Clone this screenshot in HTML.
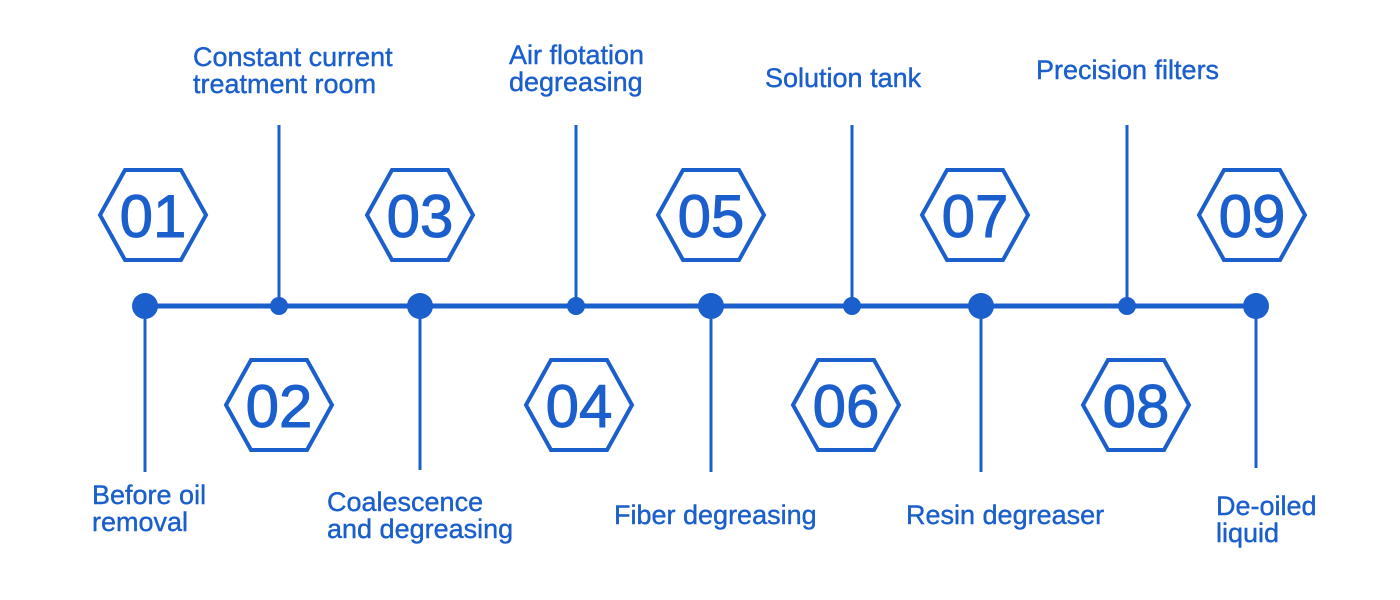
<!DOCTYPE html>
<html><head><meta charset="utf-8"><style>
body{margin:0;width:1400px;height:600px;background:#fff;position:relative;overflow:hidden;font-family:"Liberation Sans",sans-serif}
.t{position:absolute;color:#1a5fcc;font-size:27px;line-height:27px;white-space:nowrap;-webkit-text-stroke:0.4px #1a5fcc}
</style></head><body>
<svg width="1400" height="600" style="position:absolute;left:0;top:0">
<defs><polygon id="hx" points="-53,0 -28,-45 28,-45 53,0 28,45 -28,45" fill="none" stroke="#1a5fcc" stroke-width="4"/></defs>
<g stroke="#1a5fcc" stroke-width="3">
<line x1="145" y1="306" x2="1256" y2="306" stroke-width="5"/>
<line x1="279" y1="125" x2="279" y2="306"/><line x1="576" y1="125" x2="576" y2="306"/>
<line x1="852" y1="125" x2="852" y2="306"/><line x1="1127" y1="125" x2="1127" y2="306"/>
<line x1="145" y1="306" x2="145" y2="472"/><line x1="420" y1="306" x2="420" y2="470"/>
<line x1="711" y1="306" x2="711" y2="472"/><line x1="981" y1="306" x2="981" y2="472"/>
<line x1="1256" y1="306" x2="1256" y2="468"/>
</g>
<g fill="#1a5fcc">
<circle cx="145" cy="306" r="13"/><circle cx="420" cy="306" r="13"/><circle cx="711" cy="306" r="13"/><circle cx="981" cy="306" r="13"/><circle cx="1256" cy="306" r="13"/>
<circle cx="279" cy="306" r="9"/><circle cx="576" cy="306" r="9"/><circle cx="852" cy="306" r="9"/><circle cx="1127" cy="306" r="9"/>
</g>
<use href="#hx" x="153" y="215"/><use href="#hx" x="420" y="215"/><use href="#hx" x="711" y="215"/><use href="#hx" x="975" y="215"/><use href="#hx" x="1252" y="215"/>
<use href="#hx" x="279" y="405"/><use href="#hx" x="579" y="405"/><use href="#hx" x="846" y="405"/><use href="#hx" x="1136" y="405"/>
<g fill="#1a5fcc" stroke="#1a5fcc" stroke-width="1" font-family="Liberation Sans, sans-serif" font-size="60" text-anchor="middle">
<text x="153" y="237">01</text><text x="420" y="237">03</text><text x="711" y="237">05</text><text x="975" y="237">07</text><text x="1252" y="237">09</text>
<text x="279" y="427">02</text><text x="579" y="427">04</text><text x="846" y="427">06</text><text x="1136" y="427">08</text>
</g>
</svg>
<div class="t" style="left:193px;top:44px">Constant current<br>treatment room</div>
<div class="t" style="left:509px;top:42px">Air flotation<br>degreasing</div>
<div class="t" style="left:765px;top:65px">Solution tank</div>
<div class="t" style="left:1036px;top:57px">Precision filters</div>
<div class="t" style="left:92px;top:482px">Before oil<br>removal</div>
<div class="t" style="left:327px;top:489px">Coalescence<br>and degreasing</div>
<div class="t" style="left:614px;top:502px">Fiber degreasing</div>
<div class="t" style="left:906px;top:502px">Resin degreaser</div>
<div class="t" style="left:1216px;top:493px">De-oiled<br>liquid</div>
</body></html>
